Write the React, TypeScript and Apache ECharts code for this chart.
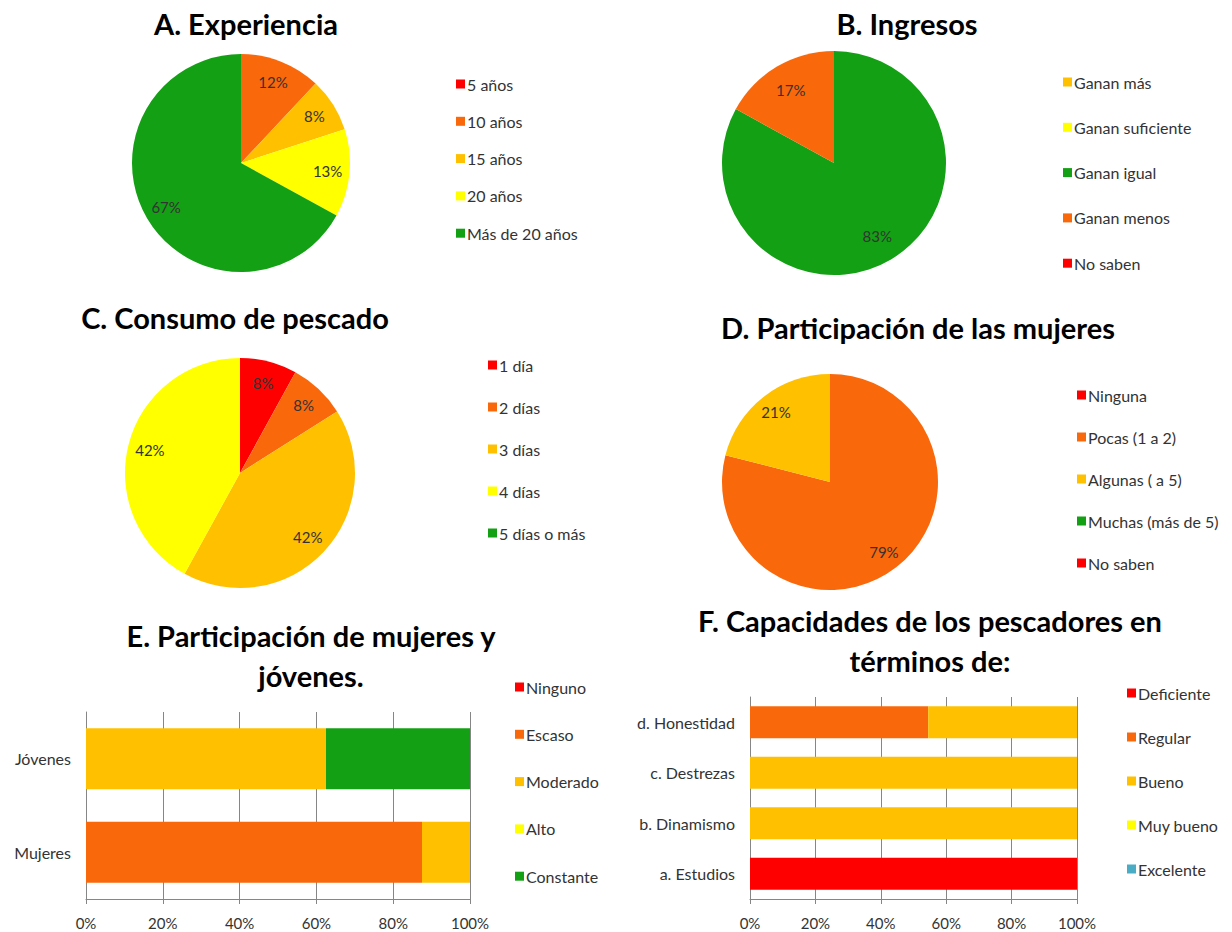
import React, { useEffect, useRef } from 'react';
import * as echarts from 'echarts';

const FONT = 'Lato, "Noto Sans", sans-serif';
const RED = '#ff0000';
const ORANGE = '#fa680c';
const AMBER = '#ffc000';
const YELLOW = '#ffff00';
const GREEN = '#14a014';
const TEAL = '#4bacc6';
const GRID_GRAY = '#868686';
const TEXT = '#333333';

// A. Experiencia
const expNames = ['5 años', '10 años', '15 años', '20 años', 'Más de 20 años'];
const expValues = [0, 12, 8, 13, 67];
const expColors = [RED, ORANGE, AMBER, YELLOW, GREEN];

// B. Ingresos
const ingNames = ['Ganan más', 'Ganan suficiente', 'Ganan igual', 'Ganan menos', 'No saben'];
const ingValues = [0, 0, 83, 17, 0];
const ingColors = [AMBER, YELLOW, GREEN, ORANGE, RED];

// C. Consumo de pescado
const conNames = ['1 día', '2 días', '3 días', '4 días', '5 días o más'];
const conValues = [8, 8, 42, 42, 0];
const conColors = [RED, ORANGE, AMBER, YELLOW, GREEN];

// D. Participación de las mujeres
const mujNames = ['Ninguna', 'Pocas (1 a 2)', 'Algunas ( a 5)', 'Muchas (más de 5)', 'No saben'];
const mujValues = [0, 79, 21, 0, 0];
const mujColors = [RED, ORANGE, AMBER, GREEN, RED];

// E. Participación de mujeres y jóvenes
const partGroups = ['Mujeres', 'Jóvenes'];
const partLevels = ['Ninguno', 'Escaso', 'Moderado', 'Alto', 'Constante'];
const partNinguno = [0, 0];
const partEscaso = [87.5, 0];
const partModerado = [12.5, 62.5];
const partAlto = [0, 0];
const partConstante = [0, 37.5];
const partColors = [RED, ORANGE, AMBER, YELLOW, GREEN];

// F. Capacidades de los pescadores
const capSkills = ['a. Estudios', 'b. Dinamismo', 'c. Destrezas', 'd. Honestidad'];
const capLevels = ['Deficiente', 'Regular', 'Bueno', 'Muy bueno', 'Excelente'];
const capDeficiente = [100, 0, 0, 0];
const capRegular = [0, 0, 0, 54.5];
const capBueno = [0, 100, 100, 45.5];
const capMuyBueno = [0, 0, 0, 0];
const capExcelente = [0, 0, 0, 0];
const capColors = [RED, ORANGE, AMBER, YELLOW, TEAL];

function pieSeries(names: string[], values: number[], colors: string[], center: number[], r: number, r0: number) {
  return [
    {
      type: 'pie',
      center,
      radius: r,
      startAngle: 90,
      clockwise: true,
      silent: true,
      avoidLabelOverlap: false,
      itemStyle: { borderWidth: 0 },
      label: { show: false },
      labelLine: { show: false },
      emphasis: { disabled: true },
      data: names.map((n, i) => ({ name: n, value: values[i], itemStyle: { color: colors[i] } })),
    },
    {
      type: 'pie',
      center,
      radius: [r0, r],
      startAngle: 90,
      clockwise: true,
      silent: true,
      avoidLabelOverlap: false,
      itemStyle: { color: 'transparent', borderWidth: 0 },
      label: {
        show: true,
        position: 'inside',
        color: TEXT,
        fontSize: 15,
        fontFamily: FONT,
        formatter: (p: any) => (p.value > 0 ? Math.round(p.percent) + '%' : ''),
      },
      labelLine: { show: false },
      emphasis: { disabled: true },
      data: values.map((v) => ({ value: v })),
    },
  ];
}

function legend(names: string[], left: number, firstCenter: number, spacing: number) {
  const h = 18;
  return {
    data: names,
    orient: 'vertical',
    left,
    top: firstCenter - h / 2,
    padding: 0,
    itemGap: spacing - h,
    itemWidth: 9,
    itemHeight: 9,
    icon: 'rect',
    selectedMode: false,
    textStyle: { fontSize: 16, lineHeight: h, color: TEXT, fontFamily: FONT, padding: [0, 0, 0, -3] },
  };
}

function title(text: string, cx: number, top: number) {
  return {
    text,
    left: cx,
    top,
    textAlign: 'center',
    padding: 0,
    textStyle: { fontSize: 29, fontWeight: 'bold', color: '#000', fontFamily: FONT, lineHeight: 40 },
  };
}

function barSeries(names: string[], datas: number[][], colors: string[], idx: number, stack: string, width: string) {
  return names.map((n, i) => ({
    type: 'bar',
    name: n,
    stack,
    xAxisIndex: idx,
    yAxisIndex: idx,
    barWidth: width,
    silent: true,
    itemStyle: { color: colors[i] },
    data: datas[i],
  }));
}

function valueAxis(gridIndex: number) {
  return {
    type: 'value',
    gridIndex,
    min: 0,
    max: 100,
    interval: 20,
    axisLine: { show: true, lineStyle: { color: GRID_GRAY } },
    axisTick: { show: true, length: 5, lineStyle: { color: GRID_GRAY } },
    splitLine: { show: true, lineStyle: { color: GRID_GRAY } },
    axisLabel: { formatter: '{value}%', color: TEXT, fontSize: 15, fontFamily: FONT, margin: 16 },
  };
}

function catAxis(gridIndex: number, data: string[]) {
  return {
    type: 'category',
    gridIndex,
    data,
    axisLine: { show: true, lineStyle: { color: GRID_GRAY } },
    axisTick: { show: false },
    axisLabel: { color: TEXT, fontSize: 16, fontFamily: FONT, margin: 15 },
  };
}

export default function App() {
  const ref = useRef<HTMLDivElement>(null);
  useEffect(() => {
    if (!ref.current) return;
    const chart = echarts.init(ref.current, undefined, { renderer: 'svg' });
    const option: any = {
      animation: false,
      backgroundColor: '#ffffff',
      title: [
        title('A. Experiencia', 246, 3),
        title('B. Ingresos', 907, 3),
        title('C. Consumo de pescado', 235, 297),
        title('D. Participación de las mujeres', 918, 307),
        title('E. Participación de mujeres y\njóvenes.', 311, 615),
        title('F. Capacidades de los pescadores en\ntérminos de:', 930, 600),
      ],
      legend: [
        legend(expNames, 456, 84, 37.3),
        legend(ingNames, 1063, 82, 45.3),
        legend(conNames, 488, 365, 42),
        legend(mujNames, 1077, 395, 42),
        legend(partLevels, 515, 687, 47.3),
        legend(capLevels, 1127, 693, 44),
      ],
      grid: [
        { left: 86, right: 1232 - 470, top: 712, bottom: 932 - 899, containLabel: false },
        { left: 750, right: 1232 - 1077, top: 697, bottom: 932 - 899, containLabel: false },
      ],
      xAxis: [valueAxis(0), valueAxis(1)],
      yAxis: [catAxis(0, partGroups), catAxis(1, capSkills)],
      series: [
        ...pieSeries(expNames, expValues, expColors, [241, 163], 109, 59),
        ...pieSeries(ingNames, ingValues, ingColors, [834, 163], 112, 52),
        ...pieSeries(conNames, conValues, conColors, [240, 473], 115, 65),
        ...pieSeries(mujNames, mujValues, mujColors, [830, 482], 108, 62),
        ...barSeries(partLevels, [partNinguno, partEscaso, partModerado, partAlto, partConstante], partColors, 0, 'part', '65%'),
        ...barSeries(capLevels, [capDeficiente, capRegular, capBueno, capMuyBueno, capExcelente], capColors, 1, 'cap', '63%'),
      ],
    };
    chart.setOption(option);
    return () => chart.dispose();
  }, []);
  return <div ref={ref} style={{ position: 'absolute', left: 0, top: 0, width: 1232, height: 932 }} />;
}
